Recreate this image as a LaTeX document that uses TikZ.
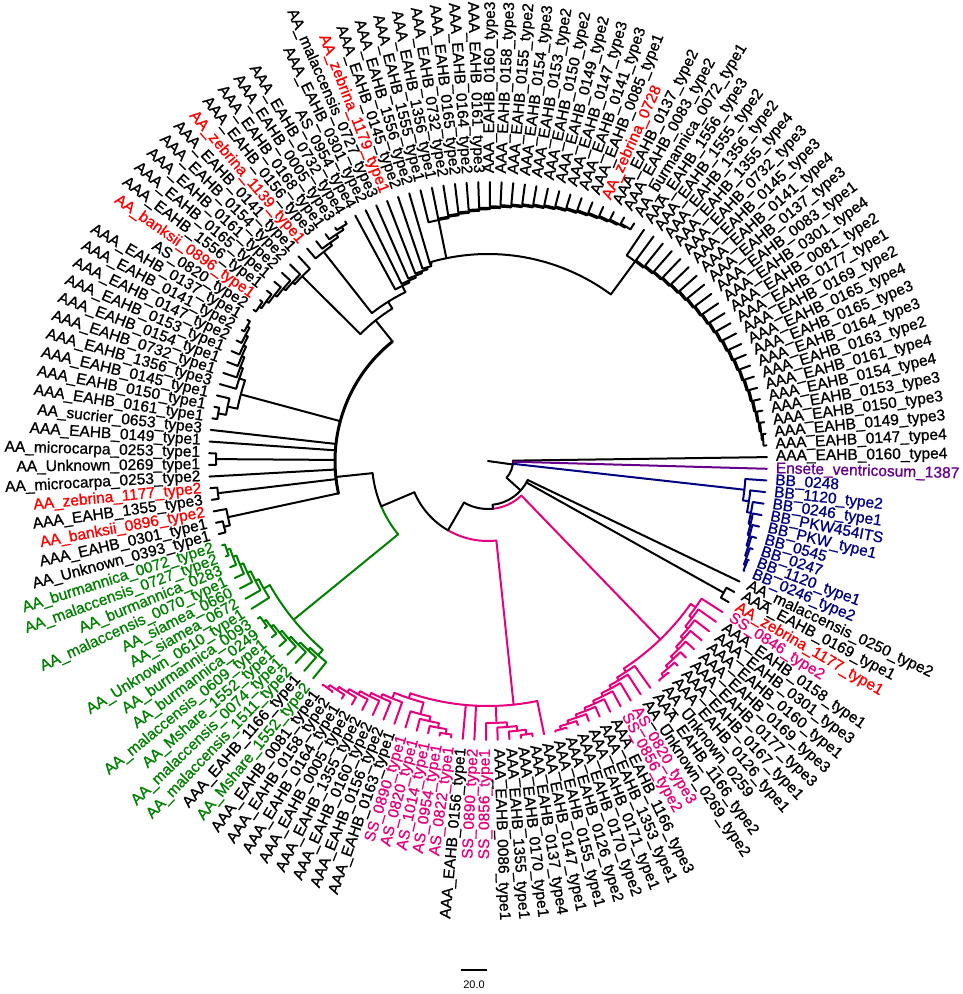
\documentclass[tikz,border=0pt]{standalone}
\usepackage{fontspec}
\setmainfont{Liberation Sans}
\newfontfamily\lblfont{Liberation Sans}[FakeBold=1]
\definecolor{cK}{RGB}{0,0,0}
\definecolor{cR}{RGB}{255,0,0}
\definecolor{cG}{RGB}{0,128,0}
\definecolor{cP}{RGB}{230,0,126}
\definecolor{cB}{RGB}{0,0,128}
\definecolor{cV}{RGB}{102,0,140}
\pgfmathdeclarefunction{lang}{1}{\pgfmathparse{0.8+2.4*(#1-1)}}
\def\rtip{279}
\newcommand\trLadG[8]{%
  \pgfmathtruncatemacro\ldNm{#3-1}%
  \pgfmathsetmacro\ldT{(lang(#2+(#4)*(#3-1))+#7)/2}%
  \expandafter\xdef\csname lth\ldNm\endcsname{\ldT}%
  \ifnum\ldNm>0
    \pgfmathtruncatemacro\ldSt{\ldNm-1}%
    \foreach \k in {\ldSt,...,0}{%
      \pgfmathtruncatemacro\kk{\k+1}%
      \pgfmathsetmacro\ldT{(lang(#2+(#4)*\k)+\csname lth\kk\endcsname)/2}%
      \expandafter\xdef\csname lth\k\endcsname{\ldT}%
    }%
  \fi
  \foreach \k in {0,...,\ldNm}{%
    \pgfmathsetmacro\ldA{lang(#2+(#4)*\k)}%
    \pgfmathsetmacro\ldR{#5+(#6-#5)*\k/max(\ldNm,1)}%
    \ifnum\k<\ldNm
      \pgfmathtruncatemacro\kk{\k+1}%
      \edef\ldX{\csname lth\kk\endcsname}%
      \pgfmathsetmacro\ldRn{#5+(#6-#5)*\kk/max(\ldNm,1)}%
    \else
      \edef\ldX{#7}%
      \edef\ldRn{#8}%
    \fi
    \draw[#1] (\ldA:\rtip pt) -- (\ldA:\ldR pt) arc[start angle=\ldA, end angle=\ldX, radius=\ldR pt] -- (\ldX:\ldRn pt);
  }%
  \xdef\lout{\csname lth0\endcsname}%
}
\newcommand\trLad[6]{\pgfmathsetmacro\ldF{lang(#2+(#4)*#3)}\trLadG{#1}{#2}{#3}{#4}{#5}{#6}{\ldF}{\rtip}}
\newcommand\trRad[4]{\draw[#1] (#2:#3pt) -- (#2:#4pt);}
\newcommand\trArc[4]{\draw[#1] (#3:#2pt) arc[start angle=#3, end angle=#4, radius=#2pt];}
\newcommand\trTip[3]{\pgfmathsetmacro\tmpA{lang(#2)}\draw[#1] (\tmpA:#3pt) -- (\tmpA:\rtip pt);}
\tikzset{lbl/.style={inner sep=0pt, font=\lblfont\fontsize{15.5}{18}\selectfont}}
\begin{document}
\begin{tikzpicture}[line width=2pt, line cap=round, line join=round]
\useasboundingbox (-488pt,-533pt) rectangle (475pt,461pt);
% ---- right group (ladder 24 -> 2)
\trLad{cK}{24}{22}{-1}{248}{276}\let\thR\lout
% ---- top comb (ladder 44 -> 25)
\trLad{cK}{44}{19}{-1}{246}{272}\let\thTa\lout
% ---- top arc
\trArc{cK}{207}{\thR}{106}
\trRad{cK}{\thR}{207}{248}
\trRad{cK}{\thTa}{207}{246}
% ---- staircase 50 -> 45 ending on top arc
\trLadG{cK}{50}{6}{-1}{195}{205}{106}{207}\let\thUiii\lout
% ---- leaves 51..55
\trLad{cK}{55}{4}{-1}{266}{276}\let\thXli\lout
\pgfmathsetmacro\thUii{(\thUiii+\thXli)/2}
\trArc{cK}{188}{\thUiii}{\thXli}
\trRad{cK}{\thUiii}{188}{195}
\trRad{cK}{\thXli}{188}{266}
% ---- leaves 56..62
\trLad{cK}{56}{6}{1}{262}{276}\let\thLa\lout
\pgfmathsetmacro\thUi{(\thUii+\thLa)/2}
\trArc{cK}{180}{\thUii}{\thLa}
\trRad{cK}{\thUii}{180}{188}
\trRad{cK}{\thLa}{180}{262}
% ---- leaves 63..72
\trLad{cK}{69}{6}{-1}{262}{276}\let\thLba\lout
\trLad{cK}{70}{2}{1}{266}{274}\let\thLbb\lout
\pgfmathsetmacro\thLb{(\thLba+\thLbb)/2}
\trArc{cK}{256}{\thLba}{\thLbb}
\trRad{cK}{\thLba}{256}{262}
\trRad{cK}{\thLbb}{256}{266}
% ---- Q node (thick arc)
\trLad{cK}{75}{1}{1}{272}{272}\let\thXv\lout
\trLad{cK}{78}{1}{1}{272}{272}\let\thXviii\lout
\trLad{cK}{80}{2}{1}{266}{272}\let\thXx\lout
\trArc{cK, line width=3pt}{153}{\thUi}{\thXx}
\trRad{cK}{\thUi}{153}{180}
\trRad{cK}{\thLb}{153}{256}
\trTip{cK}{73}{153}
\trTip{cK}{74}{153}
\trRad{cK}{\thXv}{153}{272}
\trTip{cK}{77}{153}
\trRad{cK}{\thXviii}{153}{272}
\trRad{cK}{\thXx}{153}{266}
% ---- green
\trLad{cG}{89}{6}{-1}{258}{276}\let\thGa\lout
\trLad{cG}{97}{7}{-1}{258}{276}\let\thGb\lout
\pgfmathsetmacro\thG{(\thGa+\thGb)/2}
\trArc{cG}{251}{\thGa}{\thGb}
\trRad{cG}{\thGa}{251}{258}
\trRad{cG}{\thGb}{251}{258}
% ---- Ng
\trArc{cK}{116}{186}{203}
\trArc{cG}{116}{203}{\thG}
\trRad{cK}{186}{116}{153}
\trRad{cG}{\thG}{116}{251}
% ---- pink bottom
\trLad{cP}{105}{7}{-1}{256}{278}\let\thPa\lout
\trLad{cP}{106}{4}{1}{262}{276}\let\thPb\lout
\pgfmathsetmacro\thPab{(\thPa+\thPb)/2}
\trArc{cP}{250}{\thPa}{\thPb}
\trRad{cP}{\thPa}{250}{256}
\trRad{cP}{\thPb}{250}{262}
\trLad{cP}{113}{4}{1}{262}{276}\let\thPc\lout
\pgfmathsetmacro\aPend{lang(118)}
\trArc{cP}{245}{\thPab}{\aPend}
\trRad{cP}{\thPab}{245}{250}
\trTip{cP}{111}{245}
\trTip{cP}{112}{245}
\trRad{cP}{\thPc}{245}{262}
\trTip{cP}{118}{245}
% ---- pink right
\trLad{cP}{128}{9}{-1}{252}{278}\let\thQa\lout
\trLad{cP}{137}{8}{-1}{254}{278}\let\thQb\lout
\pgfmathsetmacro\thPR{(\thQa+\thQb)/2}
\trArc{cP}{248}{\thQa}{\thQb}
\trRad{cP}{\thQa}{248}{252}
\trRad{cP}{\thQb}{248}{254}
% ---- N3, N4
\trArc{cK}{80}{203}{240}
\trArc{cP}{80}{240}{276}
\trRad{cK}{203}{80}{116}
\trRad{cP}{276}{80}{245}
\trArc{cK}{48}{240}{276}
\trArc{cP}{48}{276}{\thPR}
\trRad{cK}{240}{48}{80}
\trRad{cP}{\thPR}{48}{248}
% ---- N2
\trLad{cK}{138}{1}{1}{270}{270}\let\thXc\lout
\trArc{cK}{44}{334.4}{276}
\trTip{cK}{140}{44}
\trRad{cK}{\thXc}{44}{270}
\trRad{cK}{276}{44}{48}
% ---- blue
\trLad{cB}{147}{6}{-1}{268}{278}\let\thBa\lout
\pgfmathsetmacro\aBb{lang(148)}
\pgfmathsetmacro\thBb{(\thBa+\aBb)/2}
\trArc{cB}{264}{\thBa}{\aBb}
\trRad{cB}{\thBa}{264}{268}
\trTip{cB}{148}{264}
\pgfmathsetmacro\aBc{lang(149)}
\pgfmathsetmacro\thBc{(\thBb+\aBc)/2}
\trArc{cB}{258}{\thBb}{\aBc}
\trRad{cB}{\thBb}{258}{264}
\trTip{cB}{149}{258}
% ---- N1 and root
\trArc{cK}{25}{0.8}{-42}
\trTip{cK}{1}{25}
\trTip{cV}{150}{25}
\trRad{cB}{\thBc}{25}{258}
\trRad{cK}{-42}{25}{44}
\draw (0,0) -- (-8:25pt);
% ---- labels
\foreach \nm/\cl [count=\i] in {
AAA\_EAHB\_0160\_type4/K, AAA\_EAHB\_0147\_type4/K, AAA\_EAHB\_0149\_type3/K, AAA\_EAHB\_0150\_type3/K,
AAA\_EAHB\_0153\_type3/K, AAA\_EAHB\_0154\_type4/K, AAA\_EAHB\_0161\_type4/K, AAA\_EAHB\_0163\_type2/K,
AAA\_EAHB\_0164\_type3/K, AAA\_EAHB\_0165\_type3/K, AAA\_EAHB\_0165\_type4/K, AAA\_EAHB\_0169\_type2/K,
AAA\_EAHB\_0177\_type1/K, AAA\_EAHB\_0081\_type2/K, AAA\_EAHB\_0301\_type4/K, AAA\_EAHB\_0083\_type1/K,
AAA\_EAHB\_0137\_type3/K, AAA\_EAHB\_0141\_type4/K, AAA\_EAHB\_0145\_type3/K, AAA\_EAHB\_0732\_type3/K,
AAA\_EAHB\_1355\_type4/K, AAA\_EAHB\_1356\_type2/K, AAA\_EAHB\_1555\_type2/K, AAA\_EAHB\_1556\_type3/K,
AA\_burmannica\_0072\_type1/K, AAA\_EAHB\_0083\_type2/K, AAA\_EAHB\_0137\_type2/K, AA\_zebrina\_0728/R,
AAA\_EAHB\_0085\_type1/K, AAA\_EAHB\_0141\_type3/K, AAA\_EAHB\_0147\_type3/K, AAA\_EAHB\_0149\_type2/K,
AAA\_EAHB\_0150\_type2/K, AAA\_EAHB\_0153\_type2/K, AAA\_EAHB\_0154\_type3/K, AAA\_EAHB\_0155\_type2/K,
AAA\_EAHB\_0158\_type3/K, AAA\_EAHB\_0160\_type3/K, AAA\_EAHB\_0161\_type3/K, AAA\_EAHB\_0164\_type2/K,
AAA\_EAHB\_0165\_type2/K, AAA\_EAHB\_0732\_type2/K, AAA\_EAHB\_1356\_type1/K, AAA\_EAHB\_1555\_type1/K,
AAA\_EAHB\_1556\_type2/K, AAA\_EAHB\_0145\_type2/K, AA\_zebrina\_1179\_type1/R, AA\_malaccensis\_0727\_type3/K,
AAA\_EAHB\_0301\_type2/K, AS\_0954\_type4/K, AAA\_EAHB\_0732\_type4/K, AAA\_EAHB\_0005\_type3/K,
AAA\_EAHB\_0168\_type1/K, AAA\_EAHB\_0156\_type3/K, AA\_zebrina\_1139\_type1/R, AAA\_EAHB\_0141\_type1/K,
AAA\_EAHB\_0154\_type2/K, AAA\_EAHB\_0161\_type2/K, AAA\_EAHB\_0165\_type1/K, AAA\_EAHB\_1556\_type1/K,
AA\_banksii\_0896\_type1/R, AS\_0820\_type2/K, AAA\_EAHB\_0137\_type1/K, AAA\_EAHB\_0141\_type2/K,
AAA\_EAHB\_0147\_type2/K, AAA\_EAHB\_0153\_type1/K, AAA\_EAHB\_0154\_type1/K, AAA\_EAHB\_0732\_type1/K,
AAA\_EAHB\_1356\_type3/K, AAA\_EAHB\_0145\_type1/K, AAA\_EAHB\_0150\_type1/K, AAA\_EAHB\_0161\_type1/K,
AA\_sucrier\_0653\_type3/K, AAA\_EAHB\_0149\_type1/K, AA\_microcarpa\_0253\_type1/K, AA\_Unknown\_0269\_type1/K,
AA\_microcarpa\_0253\_type2/K, AA\_zebrina\_1177\_type2/R, AAA\_EAHB\_1355\_type3/K, AA\_banksii\_0896\_type2/R,
AAA\_EAHB\_0301\_type1/K, AA\_Unknown\_0393\_type1/K, AA\_burmannica\_0072\_type2/G, AA\_malaccensis\_0727\_type2/G,
AA\_burmannica\_0283/G, AA\_malaccensis\_0070\_type1/G, AA\_siamea\_0660/G, AA\_siamea\_0672/G,
AA\_Unknown\_0610\_type1/G, AA\_burmannica\_0093/G, AA\_burmannica\_0249/G, AA\_malaccensis\_0609\_type1/G,
AA\_Mshare\_1552\_type1/G, AA\_malaccensis\_0074\_type1/G, AA\_malaccensis\_1511\_type2/G, AAA\_EAHB\_1166\_type1/K,
AA\_Mshare\_1552\_type2/G, AAA\_EAHB\_0081\_type1/K, AAA\_EAHB\_0158\_type2/K, AAA\_EAHB\_0164\_type1/K,
AAA\_EAHB\_0005\_type2/K, AAA\_EAHB\_1355\_type2/K, AAA\_EAHB\_0160\_type2/K, AAA\_EAHB\_0156\_type2/K,
AAA\_EAHB\_0163\_type1/K, SS\_0890\_type1/P, AS\_0820\_type1/P, AS\_1014\_type1/P,
AS\_0954\_type1/P, AS\_0822\_type1/P, AAA\_EAHB\_0156\_type1/K, SS\_0890\_type2/P,
SS\_0856\_type1/P, AAA\_EAHB\_0086\_type1/K, AAA\_EAHB\_1355\_type1/K, AAA\_EAHB\_0170\_type1/K,
AAA\_EAHB\_0137\_type4/K, AAA\_EAHB\_0147\_type1/K, AAA\_EAHB\_0155\_type1/K, AAA\_EAHB\_0126\_type2/K,
AAA\_EAHB\_0170\_type2/K, AAA\_EAHB\_0171\_type1/K, AAA\_EAHB\_1353\_type1/K, AAA\_EAHB\_1166\_type3/K,
SS\_0856\_type2/P, AS\_0820\_type3/P, AA\_Unknown\_0269\_type2/K, AAA\_EAHB\_1166\_type2/K,
AA\_Unknown\_0259/K, AAA\_EAHB\_0126\_type1/K, AAA\_EAHB\_0167\_type1/K, AAA\_EAHB\_0177\_type3/K,
AAA\_EAHB\_0169\_type3/K, AAA\_EAHB\_0160\_type1/K, AAA\_EAHB\_0301\_type3/K, AAA\_EAHB\_0158\_type1/K,
SS\_0846\_type2/P, AA\_zebrina\_1177\_type1/R, AAA\_EAHB\_0169\_type1/K, AA\_malaccensis\_0250\_type2/K,
BB\_0246\_type2/B, BB\_1120\_type1/B, BB\_0247/B, BB\_0545/B,
BB\_PKW\_type1/B, BB\_PKW454ITS/B, BB\_0246\_type1/B, BB\_1120\_type2/B,
BB\_0248/B, Ensete\_ventricosum\_1387/V}{
  \pgfmathsetmacro\ang{0.8+2.4*(\i-1)}
  \pgfmathtruncatemacro\lft{and(\ang>90,\ang<270)}
  \pgfmathsetmacro\rot{\ang-180}
  \ifnum\lft=1
    \node[lbl,text=c\cl,anchor=east,rotate=\rot] (L\i) at (\ang:287pt) {\nm};
  \else
    \node[lbl,text=c\cl,anchor=west,rotate=\ang] (L\i) at (\ang:287pt) {\nm};
  \fi
}
% ---- scale bar
\coordinate (sbA) at (-27pt,-509pt);
\coordinate (sbB) at (-1pt,-509pt);
\draw[line width=1.2pt, line cap=butt] (sbA) -- (sbB);
\node[font=\fontsize{11}{13}\selectfont] (sbT) at (-14pt,-524pt) {20.0};
\end{tikzpicture}
\end{document}
